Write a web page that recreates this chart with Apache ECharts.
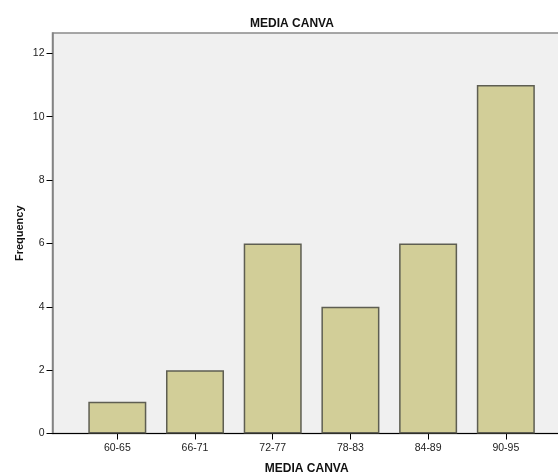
<!DOCTYPE html>
<html>
<head>
<meta charset="utf-8">
<script src="https://cdn.jsdelivr.net/npm/echarts@6/dist/echarts.min.js"></script>
<style>html,body{margin:0;padding:0;background:#fff;}#c{width:558px;height:475px;}</style>
</head>
<body>
<div id="c"></div>
<script>
const categories = ['60-65', '66-71', '72-77', '78-83', '84-89', '90-95'];
const frequencies = [1, 2, 6, 4, 6, 11];
const yTicks = [0, 2, 4, 6, 8, 10, 12];

const chart = echarts.init(document.getElementById('c'), null, {renderer: 'canvas'});
const catIdx = categories.map((_, i) => i);
chart.setOption({
  animation: false,
  backgroundColor: '#ffffff',
  title: {
    text: 'MEDIA CANVA', left: 287, top: 13, textAlign: 'center',
    textStyle: {fontFamily: 'Liberation Sans', fontSize: 12, fontWeight: 'bold', color: '#111'}
  },
  grid: {
    left: 52.5, right: -3, top: 33, bottom: 41.5,
    outerBoundsMode: 'none', containLabel: false,
    show: true, backgroundColor: '#f0f0f0', borderColor: '#8a8a8a', borderWidth: 1.5
  },
  xAxis: {
    type: 'value', min: -0.834, max: 5.71,
    name: 'MEDIA CANVA', nameLocation: 'middle', nameGap: 29,
    nameTextStyle: {fontFamily: 'Liberation Sans', fontSize: 12, fontWeight: 'bold', color: '#111'},
    splitLine: {show: false},
    axisLine: {show: true, onZero: false, lineStyle: {color: '#000', width: 1}},
    axisTick: {show: true, customValues: catIdx, length: 6, lineStyle: {color: '#000'}},
    axisLabel: {
      customValues: catIdx, margin: 9, formatter: v => categories[Math.round(v)],
      fontFamily: 'Liberation Sans', fontSize: 10.5, color: '#222'
    }
  },
  yAxis: {
    type: 'value', min: 0, max: 12.64,
    name: 'Frequency', nameLocation: 'middle', nameGap: 27, nameRotate: 90,
    nameMoveOverlap: false,
    nameTextStyle: {fontFamily: 'Liberation Sans', fontSize: 11, fontWeight: 'bold', color: '#111'},
    splitLine: {show: false},
    axisLine: {show: true, onZero: false, lineStyle: {color: '#808080', width: 1.5}},
    axisTick: {show: true, customValues: yTicks, length: 6, lineStyle: {color: '#000'}},
    axisLabel: {customValues: yTicks, margin: 8, fontFamily: 'Liberation Sans', fontSize: 10.5, color: '#222'}
  },
  series: [{
    type: 'bar',
    data: frequencies.map((v, i) => [i, v]),
    barWidth: 58,
    itemStyle: {color: '#d2ce98', borderColor: '#5e5e52', borderWidth: 1.5}
  }]
});
</script>
</body>
</html>
